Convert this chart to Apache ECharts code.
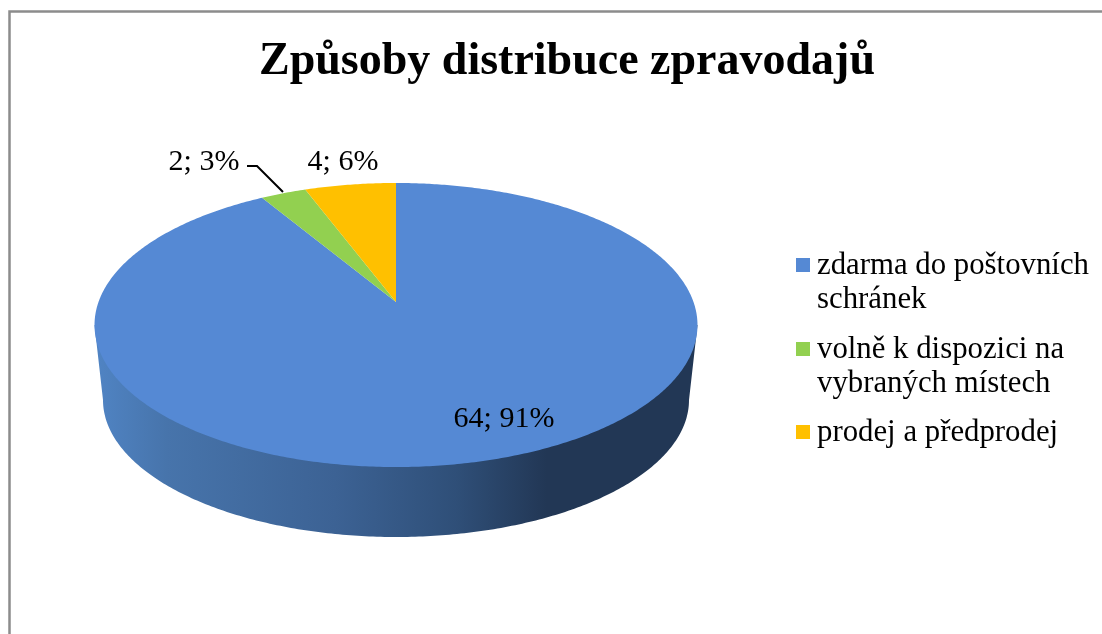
<!DOCTYPE html>
<html>
<head>
<meta charset="utf-8">
<style>html,body{margin:0;padding:0;background:#fff}#c{width:1102px;height:634px}</style>
<script src="https://cdn.jsdelivr.net/npm/echarts@6/dist/echarts.min.js"></script>
</head>
<body>
<div id="c"></div>
<script>
const titleText = 'Způsoby distribuce zpravodajů';
const categories = ['zdarma do poštovních\nschránek', 'volně k dispozici na\nvybraných místech', 'prodej a předprodej'];
const values = [64, 2, 4];
const percents = [91, 3, 6];
const colors = ['#5589d4', '#92d050', '#ffc000'];

const FONT = '"Liberation Serif", serif';
const total = values.reduce((a, b) => a + b, 0);

// Tilted-disc projection of the pie (keeps the perspective of the original)
const top3d = { x0: 396, y0: 302, k: 0.162, A: 138.3, B: 297.5 };
const bottomEllipse = { cx: 396, cy: 400, rx: 293, ry: 137 };
function project(theta) {
  const u = Math.sin(theta), v = Math.cos(theta), d = 1 + top3d.k * v;
  return [top3d.x0 + top3d.B * u / d, top3d.y0 - top3d.A * v / d];
}
function wedge(a0, a1) {
  const pts = [[top3d.x0, top3d.y0]];
  const n = Math.max(2, Math.ceil((a1 - a0) / 0.01));
  for (let i = 0; i <= n; i++) pts.push(project(a0 + (a1 - a0) * i / n));
  return pts;
}
function sidePoints() {
  const e = bottomEllipse, pts = [[94.5, 325]];
  for (let i = 0; i <= 240; i++) {
    const t = Math.PI - Math.PI * i / 240;
    pts.push([e.cx + e.rx * Math.cos(t), e.cy + e.ry * Math.sin(t)]);
  }
  pts.push([697.5, 325]);
  return pts;
}
const labelPos = [[504, 419], [204, 162], [343, 162]];
const leader = [[247, 166], [257, 166], [283, 192]];

function makeRender(idx) {
  return function (params, api) {
    const val = api.value(0);
    let before = 0;
    for (let i = 0; i < idx; i++) before += values[i];
    // slices run clockwise from 12 o'clock
    const a0 = before / total * Math.PI * 2;
    const a1 = (before + val) / total * Math.PI * 2;
    const kids = [];
    if (idx === 0) {
      kids.push({
        type: 'polygon', shape: { points: sidePoints() },
        style: {
          fill: new echarts.graphic.LinearGradient(0, 0, 1, 0, [
            { offset: 0, color: '#5084c4' },
            { offset: 0.12, color: '#4774ab' },
            { offset: 0.4, color: '#3c6294' },
            { offset: 0.6, color: '#2f4f78' },
            { offset: 0.75, color: '#223755' },
            { offset: 1, color: '#223755' }
          ])
        }
      });
    }
    kids.push({ type: 'polygon', shape: { points: wedge(a0, a1) }, style: { fill: colors[idx] } });
    if (idx === 1) {
      kids.push({ type: 'polyline', shape: { points: leader }, style: { stroke: '#000', lineWidth: 2, fill: null } });
    }
    kids.push({
      type: 'text', x: labelPos[idx][0], y: labelPos[idx][1],
      style: {
        text: val + '; ' + percents[idx] + '%',
        font: '30px ' + FONT, fill: '#000', align: 'center', verticalAlign: 'middle'
      }
    });
    return { type: 'group', children: kids };
  };
}

const LINE = 34;
function legendIcon(h, c) {
  return 'path://M0 0h.01v.01h-.01zM0 ' + (c - 7) + 'h14v14h-14zM0 ' + (h - 0.01) + 'h.01v.01h-.01z';
}
function legendFor(i, top, lines) {
  const h = lines * LINE;
  return {
    left: 796, top: top, orient: 'vertical', padding: 0, selectedMode: false,
    itemWidth: 14, itemHeight: h,
    data: [{ name: categories[i], icon: legendIcon(h, LINE / 2 - 1) }],
    textStyle: { fontFamily: FONT, fontSize: 30.8, color: '#000', lineHeight: LINE, padding: [0, 0, 0, 2] }
  };
}

const chart = echarts.init(document.getElementById('c'), null, { renderer: 'canvas' });
chart.setOption({
  animation: false,
  backgroundColor: '#fff',
  title: {
    text: titleText, left: 562, top: 34, textAlign: 'center',
    textStyle: { fontFamily: FONT, fontSize: 46, fontWeight: 'bold', color: '#000' }
  },
  legend: [legendFor(0, 249, 2), legendFor(1, 333, 2), legendFor(2, 416, 1)],
  tooltip: { show: false },
  graphic: [{
    type: 'polyline', silent: true,
    shape: { points: [[9.5, 634], [9.5, 11.5], [1102, 11.5]] },
    style: { stroke: '#8c8c8c', lineWidth: 2.5, fill: null }
  }],
  series: categories.map((name, i) => ({
    type: 'custom', name: name, coordinateSystem: 'none',
    itemStyle: { color: colors[i] },
    renderItem: makeRender(i),
    data: [[values[i]]],
    silent: true
  }))
});
</script>
</body>
</html>
